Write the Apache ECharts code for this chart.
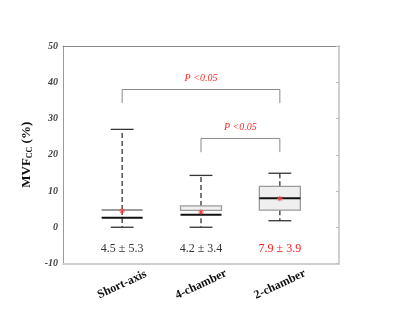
<!DOCTYPE html>
<html><head><meta charset="utf-8">
<script src="https://cdn.jsdelivr.net/npm/echarts@6/dist/echarts.min.js"></script>
<style>html,body{margin:0;padding:0;background:#fff}#c{width:400px;height:314px}</style>
</head><body><div id="c"></div>
<script>
var categories = ['Short-axis', '4-chamber', '2-chamber'];
var whiskerLow = [0, 0, 1.8];
var q1 = [4.76, 4.68, 4.7];
var median = [2.65, 3.47, 8.0];
var q3 = [4.76, 5.87, 11.3];
var whiskerHigh = [27.0, 14.3, 14.9];
var means = [4.5, 4.2, 7.9];
var statLabels = ['4.5 \u00b1 5.3', '4.2 \u00b1 3.4', '7.9 \u00b1 3.9'];
var statRed = [false, false, true];
var statY = -6;
var bracketFrom = [1, 2];
var bracketTo = [3, 3];
var bracketTop = [38, 24.5];
var bracketDrop = [34.3, 20.7];
var bracketLabels = ['P <0.05', 'P <0.05'];
var yTicks = [-10, 0, 10, 20, 30, 40, 50];

var serif = '"Liberation Serif", "DejaVu Serif", serif';
var chart = echarts.init(document.getElementById('c'), null, {renderer: 'canvas'});

function boxRender(params, api) {
  var i = params.dataIndex;
  var x = i + 1;
  var bw = 0.26, cw = 0.145;
  function c(xx, v) { return api.coord([xx, v]); }
  var children = [];
  var dash = {stroke: '#222', lineWidth: 1.2, lineDash: [5, 3]};
  var a = c(x, q3[i]), b = c(x, whiskerHigh[i]);
  children.push({type: 'line', shape: {x1: a[0], y1: a[1], x2: b[0], y2: b[1]}, style: dash});
  a = c(x, q1[i]); b = c(x, whiskerLow[i]);
  children.push({type: 'line', shape: {x1: a[0], y1: a[1], x2: b[0], y2: b[1]}, style: dash});
  [whiskerHigh[i], whiskerLow[i]].forEach(function (v) {
    var l = c(x - cw, v), r = c(x + cw, v);
    children.push({type: 'line', shape: {x1: l[0], y1: l[1], x2: r[0], y2: r[1]}, style: {stroke: '#333', lineWidth: 1.3}});
  });
  var tl = c(x - bw, q3[i]), br = c(x + bw, q1[i]);
  if (Math.abs(br[1] - tl[1]) < 1) {
    children.push({type: 'line', shape: {x1: tl[0], y1: tl[1], x2: br[0], y2: tl[1]}, style: {stroke: '#9a9a9a', lineWidth: 2}});
  } else {
    children.push({type: 'rect', shape: {x: tl[0], y: tl[1], width: br[0] - tl[0], height: br[1] - tl[1]},
      style: {fill: '#efefef', stroke: '#9a9a9a', lineWidth: 1.3}});
  }
  var ml = c(x - bw, median[i]), mr = c(x + bw, median[i]);
  children.push({type: 'line', shape: {x1: ml[0], y1: ml[1], x2: mr[0], y2: mr[1]}, style: {stroke: '#111', lineWidth: 2}});
  var m = c(x, means[i]); var s = 2.8;
  var red = {stroke: '#ff3a3a', lineWidth: 0.9};
  children.push({type: 'line', shape: {x1: m[0] - s, y1: m[1], x2: m[0] + s, y2: m[1]}, style: red});
  children.push({type: 'line', shape: {x1: m[0], y1: m[1] - s, x2: m[0], y2: m[1] + s}, style: red});
  children.push({type: 'line', shape: {x1: m[0] - 2, y1: m[1] - 2, x2: m[0] + 2, y2: m[1] + 2}, style: red});
  children.push({type: 'line', shape: {x1: m[0] - 2, y1: m[1] + 2, x2: m[0] + 2, y2: m[1] - 2}, style: red});
  var t = c(x, statY);
  children.push({type: 'text', x: t[0], y: t[1], style: {text: statLabels[i], fill: statRed[i] ? '#ff1a1a' : '#333',
    font: '12px ' + serif, align: 'center', verticalAlign: 'middle'}});
  return {type: 'group', children: children};
}

function bracketRender(params, api) {
  var i = params.dataIndex;
  var l = api.coord([bracketFrom[i], bracketTop[i]]);
  var r = api.coord([bracketTo[i], bracketTop[i]]);
  var ld = api.coord([bracketFrom[i], bracketDrop[i]]);
  var rd = api.coord([bracketTo[i], bracketDrop[i]]);
  var st = {stroke: '#8a8a8a', lineWidth: 1, fill: null};
  return {type: 'group', children: [
    {type: 'polyline', shape: {points: [ld, l, r, rd]}, style: st},
    {type: 'text', x: (l[0] + r[0]) / 2, y: l[1] - 11, style: {text: bracketLabels[i], fill: '#ff2a2a',
      font: 'italic 10px ' + serif, align: 'center', verticalAlign: 'middle'}}
  ]};
}

var option = {
  animation: false,
  grid: {left: 63, right: 61, top: 46, bottom: 50.5},
  xAxis: [{
    type: 'value', min: 0.25, max: 3.75, position: 'bottom',
    axisLine: {show: true, onZero: false, lineStyle: {color: '#cfcfcf', width: 2}},
    axisTick: {show: false},
    splitLine: {show: false},
    axisLabel: {
      customValues: [1, 2, 3],
      formatter: function (v) { return categories[Math.round(v) - 1] || ''; },
      rotate: 25, align: 'center', verticalAlign: 'middle', margin: 21,
      fontFamily: serif, fontWeight: 'bold', fontSize: 12, color: '#111'
    }
  }, {
    type: 'value', min: 0.25, max: 3.75, position: 'top',
    axisLine: {show: true, onZero: false, lineStyle: {color: '#8a8a8a', width: 1}},
    axisTick: {show: false}, axisLabel: {show: false}, splitLine: {show: false}
  }],
  yAxis: [{
    type: 'value', min: -10, max: 50, interval: 10, position: 'left',
    axisLine: {show: true, onZero: false, lineStyle: {color: '#9a9a9a', width: 1}},
    axisTick: {show: false},
    splitLine: {show: false},
    axisLabel: {
      margin: 5, fontFamily: serif, fontStyle: 'italic', fontWeight: 'bold', fontSize: 10, color: '#444',
      formatter: function (v) { return yTicks.indexOf(v) >= 0 ? String(v) : ''; }
    },
    name: '{a|MVF}{b|CC}{a| (%)}',
    nameLocation: 'middle', nameRotate: 90, nameGap: 18,
    nameTextStyle: {
      rich: {
        a: {fontFamily: serif, fontWeight: 'bold', fontSize: 13, color: '#111'},
        b: {fontFamily: serif, fontWeight: 'bold', fontSize: 8, color: '#111', verticalAlign: 'bottom', padding: [6, 0, 0, 0]}
      }
    }
  }, {
    type: 'value', min: -10, max: 50, interval: 10, position: 'right',
    axisLine: {show: true, onZero: false, lineStyle: {color: '#cfcfcf', width: 2}},
    axisTick: {show: true, inside: true, length: 3, lineStyle: {color: '#bbb'}},
    axisLabel: {show: false}, splitLine: {show: false}
  }],
  series: [{
    type: 'custom', xAxisIndex: 0, yAxisIndex: 0,
    data: categories.map(function (c, i) { return [i + 1, median[i]]; }),
    renderItem: boxRender, clip: false
  }, {
    type: 'custom', xAxisIndex: 0, yAxisIndex: 0,
    data: bracketFrom.map(function (f, i) { return [f, bracketTop[i]]; }),
    renderItem: bracketRender, clip: false
  }]
};
chart.setOption(option);
</script></body></html>
